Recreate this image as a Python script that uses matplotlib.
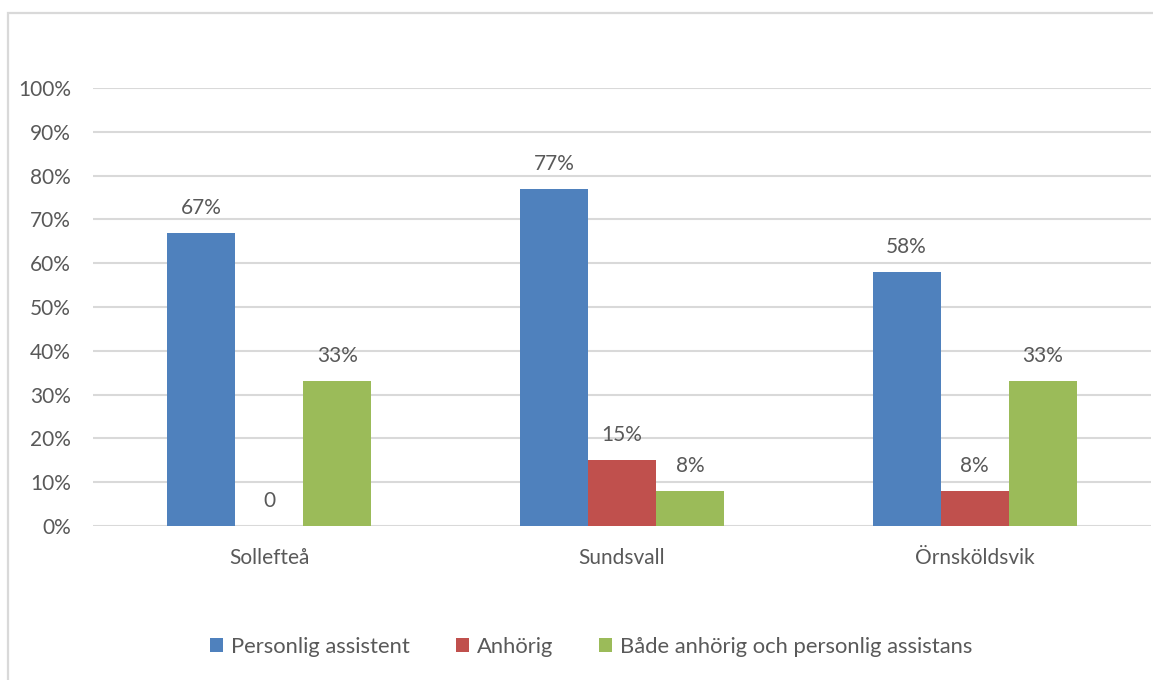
import matplotlib.pyplot as plt
import numpy as np
from matplotlib.patches import Rectangle

plt.rcParams['font.family'] = ['Lato', 'DejaVu Sans']

#######################
# Data
#######################
kommuner = ["Sollefteå", "Sundsvall", "Örnsköldsvik"]
serier = ["Personlig assistent", "Anhörig", "Både anhörig och personlig assistans"]
personlig = [0.67, 0.77, 0.58]
anhorig = [0.0, 0.15, 0.08]
bada = [0.33, 0.08, 0.33]
farger = ["#4F81BD", "#C0504D", "#9BBB59"]
yticks = [0, 0.1, 0.2, 0.3, 0.4, 0.5, 0.6, 0.7, 0.8, 0.9, 1.0]

grey = "#595959"
gridc = "#d9d9d9"
fs = 15

fig = plt.figure(figsize=(11.53, 6.8), dpi=100)
ax = fig.add_axes([93/1153, 1-526/680, (1151-93)/1153, (526-88)/680])

# outer frame of the chart area (only top and left show)
fig.patches.append(Rectangle((8/1153, -0.2), 1.2, 1-13/680+0.2, transform=fig.transFigure,
                             fill=False, edgecolor=gridc, linewidth=1.6))

x = np.arange(len(kommuner))
w = 0.193
for i, (vals, namn, c) in enumerate(zip([personlig, anhorig, bada], serier, farger)):
    pos = x + (i-1)*w
    ax.bar(pos, vals, width=w, color=c, label=namn, zorder=3)
    for px, v in zip(pos, vals):
        txt = "0" if v == 0 else f"{v:.0%}"
        ax.annotate(txt, (px, v), xytext=(0, 18), textcoords="offset points",
                    ha="center", va="center", fontsize=fs, color=grey)

ax.set_xlim(-0.5, 2.5)
ax.set_ylim(0, 1.0)
ax.set_yticks(yticks)
ax.set_yticklabels([f"{int(round(t*100))}%" for t in yticks])
ax.set_xticks(x)
ax.set_xticklabels(kommuner)
ax.tick_params(axis="both", length=0, labelsize=fs, labelcolor=grey)
ax.tick_params(axis="y", pad=16)
ax.tick_params(axis="x", pad=16)
ax.grid(axis="y", color=gridc, linewidth=1.5, zorder=0)
for s in ax.spines.values():
    s.set_visible(False)

fig.legend(loc="center", bbox_to_anchor=(591/1153, 1-647/680), ncol=3, frameon=False,
           fontsize=15.8, labelcolor=grey, handlelength=0.6, handleheight=0.6,
           handletextpad=0.35, columnspacing=2.1)

plt.savefig("out.png", dpi=100)
